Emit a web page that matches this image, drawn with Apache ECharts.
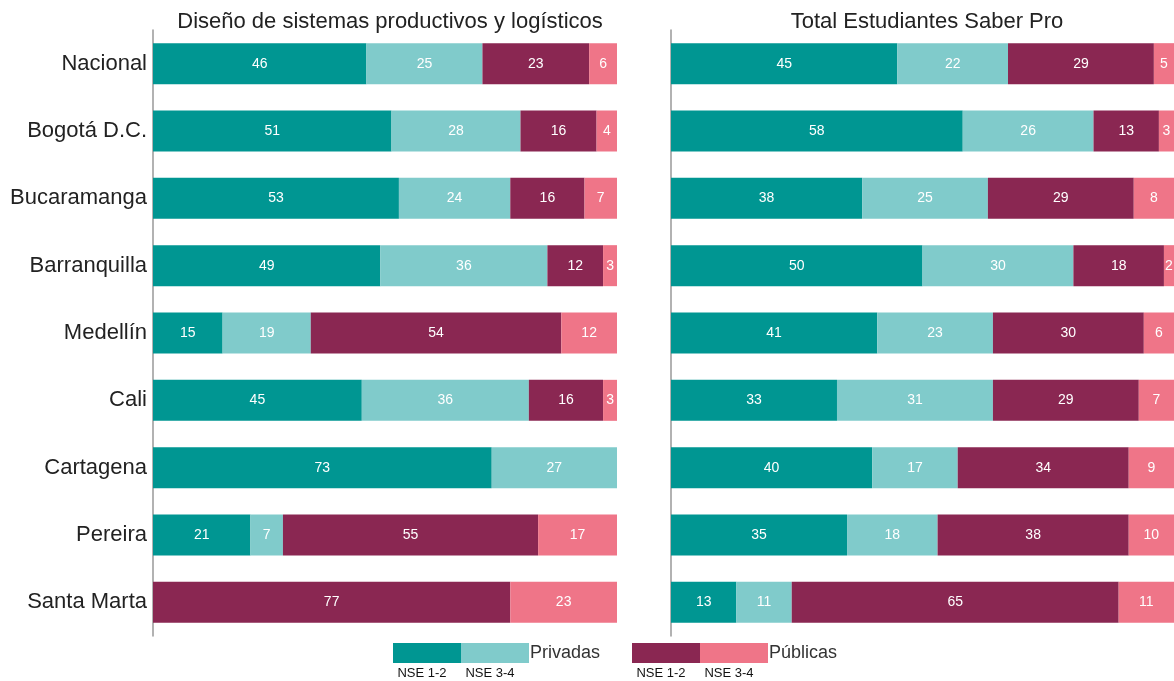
<!DOCTYPE html>
<html><head><meta charset="utf-8">
<script src="https://cdn.jsdelivr.net/npm/echarts@6/dist/echarts.min.js"></script>
<style>html,body{margin:0;padding:0;background:#fff}#c{width:1174px;height:681px}</style>
</head><body><div id="c"></div>
<script>
const categories = ['Nacional','Bogotá D.C.','Bucaramanga','Barranquilla','Medellín','Cali','Cartagena','Pereira','Santa Marta'];
const titles = ['Diseño de sistemas productivos y logísticos','Total Estudiantes Saber Pro'];
const seriesNames = ['Privadas NSE 1-2','Privadas NSE 3-4','Públicas NSE 1-2','Públicas NSE 3-4'];
// Left panel: Diseño de sistemas productivos y logísticos (percent)
const leftPriv12 = [46,51.4,53,49,15,45,73,21,0];
const leftPriv34 = [25,27.8,24,36,19,36,27,7,0];
const leftPub12  = [23,16.4,16,12,54,16,0,55,77];
const leftPub34  = [6,4.4,7,3,12,3,0,17,23];
// Right panel: Total Estudiantes Saber Pro (percent)
const rightPriv12 = [45,58,38,50,41,33,40,35,13];
const rightPriv34 = [22,26,25,30,23,31,17,18,11];
const rightPub12  = [29,13,29,18,30,29,34,38,65];
const rightPub34  = [5,3,8,2,6,7,9,10,11];
const legendGroups = ['Privadas','Públicas'];
const legendSub = ['NSE 1-2','NSE 3-4'];

const colors = ['#009692','#80CBCB','#8A2752','#EF7588'];
const FONT = '"Liberation Sans", Arial, sans-serif';

const chart = echarts.init(document.getElementById('c'));
const grids = [
  {left:153, width:464, top:30, height:606},
  {left:671, width:506, top:30, height:606}
];
const panels = [
  [leftPriv12,leftPriv34,leftPub12,leftPub34],
  [rightPriv12,rightPriv34,rightPub12,rightPub34]
];
const series = [];
panels.forEach((p, gi) => {
  p.forEach((arr, si) => {
    series.push({
      type:'bar', name:seriesNames[si], stack:'s'+gi,
      xAxisIndex:gi, yAxisIndex:gi,
      barWidth:41,
      data:arr.map(v => v === 0 ? null : v),
      itemStyle:{color:colors[si]},
      label:{show:true, position:'inside', color:'#fff', fontSize:14, fontFamily:FONT,
        formatter: d => d.value == null ? '' : String(Math.round(d.value))},
      emphasis:{disabled:true}
    });
  });
});

const graphics = [];
const legendX = [393, 632];
legendGroups.forEach((g, gi) => {
  const x0 = legendX[gi];
  for (let k = 0; k < 2; k++) {
    graphics.push({type:'rect', left:x0 + k*68, top:643, shape:{width:68, height:20}, style:{fill:colors[gi*2+k]}});
    graphics.push({type:'text', x:x0 + k*68 + 29, y:673, style:{text:legendSub[k], fill:'#111', fontSize:13, fontFamily:FONT, textAlign:'center', textVerticalAlign:'middle'}});
  }
  graphics.push({type:'text', x:x0 + 137, y:653, style:{text:g, fill:'#333', fontSize:18, fontFamily:FONT, textAlign:'left', textVerticalAlign:'middle'}});
});

chart.setOption({
  animation:false,
  title: titles.map((t, i) => ({
    text:t, left: grids[i].left + grids[i].width/2 - (i===1?2:0), top:6, textAlign:'center',
    textStyle:{fontSize:22, fontWeight:'normal', color:'#222', fontFamily:FONT}
  })),
  grid: grids,
  xAxis: grids.map((g, i) => ({type:'value', gridIndex:i, min:0, max:100, show:false, splitLine:{show:false}})),
  yAxis: grids.map((g, i) => ({
    type:'category', gridIndex:i, data:categories, inverse:true,
    axisLine:{show:true, lineStyle:{color:'#999', width:1.5}},
    axisTick:{show:false},
    axisLabel:{show:i===0, fontSize:22, color:'#222', fontFamily:FONT, margin:6}
  })),
  series: series,
  graphic: graphics
});
</script></body></html>
